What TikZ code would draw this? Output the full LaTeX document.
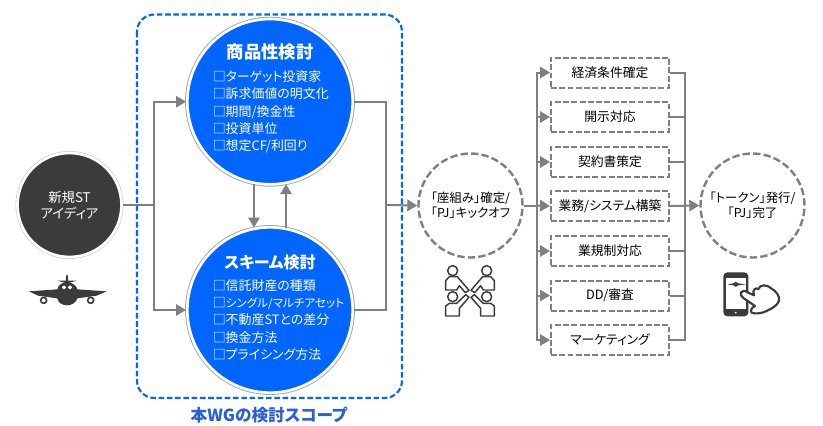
\documentclass[tikz,border=0pt]{standalone}
\usepackage{fontspec}
\setmainfont{Noto Sans CJK JP}[RawFeature=+palt]
\usetikzlibrary{arrows.meta}
\definecolor{flowgray}{HTML}{7F7F7F}
\definecolor{wgblue}{HTML}{0066FF}
\definecolor{scopeblue}{HTML}{2A5FD6}
\definecolor{iconblack}{HTML}{3B3B3B}
\tikzset{
	link/.style={draw=flowgray,line width=1.5pt},
	flow/.style={link,-{Triangle[length=7.5pt,width=8.5pt]}},
	wgcircle/.style={circle,fill=wgblue,draw=white,line width=2pt,minimum size=124pt,inner sep=0pt,preaction={draw=black!35,line width=3.4pt}},
	milestone/.style={circle,fill=white,draw=flowgray,line width=1.8pt,dash pattern=on 5.5pt off 2.4pt,minimum size=78pt,inner sep=0pt,align=center,font=\fontsize{9.3}{11.5}\selectfont},
	taskbox/.style={rectangle,draw=flowgray,line width=1.5pt,dash pattern=on 4.4pt off 1.8pt,fill=white,minimum width=88.5pt,minimum height=22.5pt,inner sep=0pt,font=\fontsize{9.6}{11}\selectfont},
	wgtitle/.style={text=white,font=\fontsize{13}{15}\bfseries\selectfont},
	wglist/.style={text=white,align=left,anchor=west,inner sep=0pt,font=\fontsize{9.7}{13}\selectfont},
	iconline/.style={draw=iconblack,line width=1.1pt,line join=round,fill=white}
}
\begin{document}
\begin{tikzpicture}[x=0.75pt,y=-0.75pt]
	\useasboundingbox (0,0) rectangle (823,425);
	\draw [wgblue,line width=1.6pt,dash pattern=on 4.2pt off 2pt,rounded corners=13pt] (137,14.5) rectangle (402,398);
	\node [text=scopeblue,font=\fontsize{12.5}{15}\bfseries\selectfont] (scopelabel) at (269,415) {本WGの検討スコープ};

	\node [circle,fill=iconblack,draw=white,line width=2pt,minimum size=78pt,inner sep=0pt,align=center,text=white,font=\fontsize{10}{12}\selectfont,preaction={draw=black!20,line width=3pt}] (idea) at (69.5,205) {新規ST\\アイディア};
	\node [wgcircle] (shohin) at (270,101.7) {};
	\node [wgcircle] (scheme) at (270,310) {};
	\node [milestone] (kickoff) at (470.5,205.5) {「座組み」確定/\\「PJ」キックオフ};
	\node [milestone] (token) at (752.5,205.5) {「トークン」発行/\\「PJ」完了};

	\node [wgtitle] (shohintitle) at (270,52) {商品性検討};
	\node [wglist] (shohinlist) at (212.5,112) {□ターゲット投資家\\□訴求価値の明文化\\□期間/換金性\\□投資単位\\□想定CF/利回り};
	\node [wgtitle,font=\fontsize{12}{15}\bfseries\selectfont] (schemetitle) at (270,262) {スキーム検討};
	\node [wglist] (schemelist) at (212.5,320) {□信託財産の種類\\□{\fontsize{8.7}{13}\selectfont シングル/マルチアセット}\\□不動産STとの差分\\□換金方法\\□プライシング方法};

	\node [taskbox] (keizai) at (610,72.5) {経済条件確定};
	\node [taskbox] (kaiji) at (610,117) {開示対応};
	\node [taskbox] (keiyaku) at (610,162) {契約書策定};
	\node [taskbox] (gyomu) at (610,206) {業務/システム構築};
	\node [taskbox] (kisei) at (610,251) {業規制対応};
	\node [taskbox] (dd) at (610,295.5) {DD/審査};
	\node [taskbox] (marketing) at (610,340) {マーケティング};

	\coordinate (busa) at (153.5,205);
	\coordinate (busb) at (385.5,205);
	\coordinate (busc) at (536.5,205.5);
	\coordinate (busd) at (685,205.5);

	\draw [link] (idea.east) -- (busa);
	\draw [flow] (busa) |- (shohin.west);
	\draw [flow] (busa) |- (scheme.west);
	\draw [flow] (shohin.259) -- (scheme.101);
	\draw [flow] (scheme.79) -- (shohin.281);
	\draw [link] (shohin.east) -| (busb);
	\draw [link] (scheme.east) -| (busb);
	\draw [flow] (busb) -- (kickoff.west);
	\draw [link] (kickoff.east) -- (busc);

	\draw [flow] (busc) |- (keizai.west);
	\draw [flow] (busc) |- (kaiji.west);
	\draw [flow] (busc) |- (keiyaku.west);
	\draw [flow] (busc) -- (gyomu.west);
	\draw [flow] (busc) |- (kisei.west);
	\draw [flow] (busc) |- (dd.west);
	\draw [flow] (busc) |- (marketing.west);

	\draw [link] (keizai.east) -| (busd);
	\draw [link] (kaiji.east) -| (busd);
	\draw [link] (keiyaku.east) -| (busd);
	\draw [link] (kisei.east) -| (busd);
	\draw [link] (dd.east) -| (busd);
	\draw [link] (marketing.east) -| (busd);
	\draw [flow] (gyomu.east) -- (token.west);

	% airplane
	\begin{scope}[shift={(0,130)},x=0.25pt,y=-0.25pt]
		\fill [iconblack] (87,484) -- (172,478) .. controls (175,462) and (190,458) .. (197,457) -- (199,436) -- (201,432) -- (203,436) -- (205,457) .. controls (212,458) and (228,462) .. (232,478) -- (320,484) -- (290,497) -- (232,505) .. controls (228,518) and (215,526) .. (201,526) .. controls (187,526) and (174,518) .. (172,505) -- (114,497) -- cycle;
		\fill [iconblack] (173,452) -- (230,452) -- (206,459) -- (197,459) -- cycle;
		\draw [iconblack,fill=white,line width=1.2pt] (131,511) circle (9);
		\draw [iconblack,fill=white,line width=1.2pt] (272,511) circle (9);
		\fill [white,rounded corners=1pt] (186,467) rectangle (198,477);
		\fill [white,rounded corners=1pt] (204,467) rectangle (216,477);
	\end{scope}

	% team
	\begin{scope}[shift={(400,140)},x=0.25pt,y=-0.25pt]
		\draw [iconline] (158,392) circle (15);
		\draw [iconline] (260,392) circle (15);
		\draw [iconline] (158,470) circle (15);
		\draw [iconline] (260,470) circle (15);
		\draw [iconline] (137,450) -- (137,422) -- (148,410) -- (172,410) -- (207,451) -- (196,458) -- (178,437) -- (170,450) -- cycle;
		\draw [iconline] (283,450) -- (283,422) -- (272,410) -- (248,410) -- (213,451) -- (224,458) -- (242,437) -- (250,450) -- cycle;
		\draw [iconline] (137,528) -- (137,498) -- (148,490) -- (170,490) -- (197,464) -- (207,472) -- (178,505) -- (178,528) -- cycle;
		\draw [iconline] (283,528) -- (283,498) -- (272,490) -- (250,490) -- (223,464) -- (213,472) -- (242,505) -- (242,528) -- cycle;
	\end{scope}

	% phone
	\begin{scope}[shift={(680,150)},x=0.25pt,y=-0.25pt]
		\fill [iconblack,rounded corners=3pt] (130,367) rectangle (205,499);
		\fill [white] (137,385) rectangle (198,478);
		\fill [white] (167,488) circle (3);
		\fill [iconblack] (142,403) -- (160,400) .. controls (162,394) and (172,394) .. (175,400) -- (197,403) -- (175,406) .. controls (172,412) and (163,412) .. (160,406) -- cycle;
		\draw [draw=iconblack,line width=1.6pt,fill=white,line join=round] (183,427) .. controls (186,420) and (195,422) .. (205,428) -- (222,436) .. controls (215,418) and (228,412) .. (235,417) .. controls (240,402) and (262,404) .. (272,414) .. controls (290,424) and (300,440) .. (297,452) .. controls (292,470) and (262,482) .. (250,487) .. controls (240,490) and (225,492) .. (215,488) .. controls (210,482) and (215,472) .. (225,468) -- (190,444) .. controls (183,438) and (180,433) .. (183,427) -- cycle;
	\end{scope}
\end{tikzpicture}
\end{document}
